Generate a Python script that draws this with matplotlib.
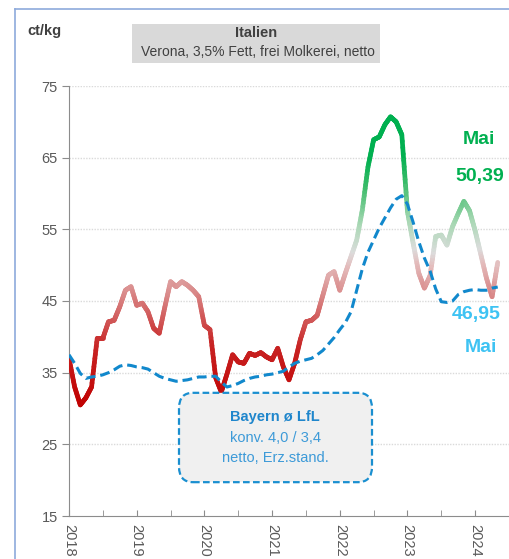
import numpy as np
import matplotlib
matplotlib.use("Agg")
import matplotlib.pyplot as plt
from matplotlib.collections import LineCollection
from matplotlib.colors import LinearSegmentedColormap, Normalize
from matplotlib.patches import Rectangle, FancyBboxPatch
from matplotlib.lines import Line2D

plt.rcParams['font.family'] = ['Liberation Sans', 'DejaVu Sans']

# ---- data (monthly, Jan 2018 .. May 2024) ----
start_year = 2018
italy = [37.0, 33.0, 30.5, 31.5, 33.0, 39.8, 39.8, 42.1, 42.3, 44.2, 46.5, 47.0,
         44.4, 44.7, 43.5, 41.2, 40.5, 44.2, 47.7, 47.0, 47.7, 47.2, 46.5, 45.6,
         41.6, 41.0, 34.3, 32.3, 34.8, 37.5, 36.5, 36.3, 37.7, 37.4, 37.8, 37.2,
         36.8, 38.4, 35.8, 34.0, 36.3, 39.6, 42.1, 42.3, 43.0, 45.8, 48.6, 49.1,
         46.5, 48.9, 51.2, 53.5, 57.7, 63.7, 67.5, 67.9, 69.6, 70.7, 70.0, 68.2,
         57.5, 53.1, 48.9, 46.8, 48.5, 54.0, 54.2, 52.8, 55.4, 57.2, 58.9, 57.6,
         54.8, 51.5, 48.2, 45.6, 50.39]
bayern = [37.5, 36.3, 34.9, 34.2, 34.4, 34.5, 34.7, 35.0, 35.4, 35.9, 36.1, 36.0,
          35.8, 35.7, 35.5, 35.0, 34.5, 34.2, 34.0, 33.8, 33.9, 34.0, 34.2, 34.4,
          34.4, 34.5, 34.5, 33.7, 33.0, 33.2, 33.5, 33.9, 34.2, 34.4, 34.5, 34.7,
          34.8, 35.0, 35.2, 35.8, 36.3, 36.6, 36.8, 37.0, 37.5, 38.1, 39.0, 39.9,
          41.0, 42.0, 43.5, 46.5, 49.5, 51.8, 53.5, 55.2, 56.6, 58.0, 59.2, 59.7,
          58.5, 56.0, 53.3, 51.0, 49.2, 46.7, 44.9, 44.8, 45.0, 45.9, 46.3, 46.5,
          46.6, 46.5, 46.5, 46.8, 46.95]
year_labels = ['2018', '2019', '2020', '2021', '2022', '2023', '2024']
y_ticks = [15, 25, 35, 45, 55, 65, 75]
last_month = 'Mai'
italy_last_label = '50,39'
bayern_last_label = '46,95'

W, H = 509, 559
def fx(p): return p / W
def fy(p): return 1 - p / H

fig = plt.figure(figsize=(W / 100, H / 100), dpi=100)
fig.patch.set_facecolor('white')

ax = fig.add_axes([fx(69), fy(516), fx(509) - fx(69), fy(86) - fy(516)])
ax.set_xlim(2018, 2018 + (509 - 69) / 69)
ax.set_ylim(15, 75)

x_it = start_year + np.arange(len(italy)) / 12.0
x_by = start_year + np.arange(len(bayern)) / 12.0

# gradient line for Italy (colour by value)
cmap = LinearSegmentedColormap.from_list('it', [
    (0.0, '#c00000'), (0.22, '#c82424'), (0.4, '#d98888'), (0.5, '#e4bcbc'),
    (0.55, '#dcdcdc'), (0.65, '#a8d8b4'), (0.78, '#3cbc6a'), (0.88, '#00b050'), (1.0, '#00b050')])
norm = Normalize(30, 70)
xs, ys = [], []
for i in range(len(italy) - 1):
    t = np.linspace(0, 1, 12, endpoint=False)
    xs.extend(x_it[i] + (x_it[i + 1] - x_it[i]) * t)
    ys.extend(italy[i] + (italy[i + 1] - italy[i]) * t)
xs.append(x_it[-1]); ys.append(italy[-1])
xs = np.array(xs); ys = np.array(ys)
pts = np.column_stack([xs, ys]).reshape(-1, 1, 2)
segs = np.concatenate([pts[:-1], pts[1:]], axis=1)
lc = LineCollection(segs, cmap=cmap, norm=norm, linewidths=3.4, capstyle='round', joinstyle='round', zorder=3)
lc.set_array((ys[:-1] + ys[1:]) / 2)
ax.add_collection(lc)

ax.plot(x_by, bayern, color='#1188cc', lw=2.2, linestyle=(0, (3.2, 1.6)),
        dash_capstyle='butt', zorder=4)

# axes styling
for s in ['top', 'right']:
    ax.spines[s].set_visible(False)
ax.spines['left'].set_color('#8c8c8c')
ax.spines['bottom'].set_color('#8c8c8c')
ax.set_yticks(y_ticks)
ax.set_yticklabels([str(v) for v in y_ticks])
ax.tick_params(axis='y', direction='out', length=5, color='#8c8c8c', labelsize=10.5,
               labelcolor='#595959', pad=3)
ax.set_xticks([start_year + i for i in range(len(year_labels))])
ax.set_xticklabels(year_labels, rotation=270, ha='center', va='top')
ax.set_xticks([start_year + i + 0.5 for i in range(len(year_labels))], minor=True)
ax.tick_params(axis='x', which='both', direction='in', length=4, color='#8c8c8c',
               labelsize=10.5, labelcolor='#595959', pad=6)
for yv in y_ticks[1:]:
    ax.axhline(yv, color='#dadada', lw=1.0, linestyle=(0, (1, 1)), zorder=1)

# outer frame
fig.add_artist(Line2D([fx(15), fx(15)], [0, fy(9)], transform=fig.transFigure, color='#8eaadb', lw=1.2))
fig.add_artist(Line2D([fx(15), 1], [fy(9), fy(9)], transform=fig.transFigure, color='#8eaadb', lw=1.2))

# unit label
fig.text(fx(27), fy(31), 'ct/kg', fontsize=10.5, fontweight='bold', color='#404040', ha='left', va='center')

# title box
fig.add_artist(Rectangle((fx(132), fy(63)), fx(380) - fx(132), fy(24) - fy(63),
                         transform=fig.transFigure, facecolor='#d9d9d9', edgecolor='none'))
fig.text(fx(256), fy(33), 'Italien', fontsize=10.5, fontweight='bold', color='#404040', ha='center', va='center')
fig.text(fx(258), fy(52), 'Verona, 3,5% Fett, frei Molkerei, netto', fontsize=10, color='#404040',
         ha='center', va='center')

# right annotations
green = '#00b050'
lblue = '#3ec3f3'
fig.text(fx(479), fy(139), last_month, fontsize=14, fontweight='bold', color=green, ha='center', va='center')
fig.text(fx(455), fy(176), italy_last_label, fontsize=14, fontweight='bold', color=green, ha='left', va='center')
fig.text(fx(452), fy(314), bayern_last_label, fontsize=14, fontweight='bold', color=lblue, ha='left', va='center')
fig.text(fx(481), fy(348), last_month, fontsize=14, fontweight='bold', color=lblue, ha='center', va='center')

# Bayern box
box = FancyBboxPatch((fx(191), fy(469)), fx(360) - fx(191), fy(406) - fy(469),
                     boxstyle='round,pad=0.0,rounding_size=0.02', transform=fig.transFigure,
                     facecolor='#f0f0f0', edgecolor='#1a8fd0', lw=1.6, linestyle=(0, (3, 1.5)),
                     zorder=5, mutation_aspect=1)
box.set_boxstyle('round', pad=fx(12), rounding_size=fx(14))
fig.add_artist(box)
fig.text(fx(275), fy(417), 'Bayern ø LfL', fontsize=10.5, fontweight='bold', color='#1f86cc', ha='center', va='center', zorder=6)
fig.text(fx(275), fy(438), 'konv. 4,0 / 3,4', fontsize=10.5, color='#3d9ad8', ha='center', va='center', zorder=6)
fig.text(fx(275), fy(458), 'netto, Erz.stand.', fontsize=10.5, color='#3d9ad8', ha='center', va='center', zorder=6)

fig.savefig('out.png', dpi=100)
